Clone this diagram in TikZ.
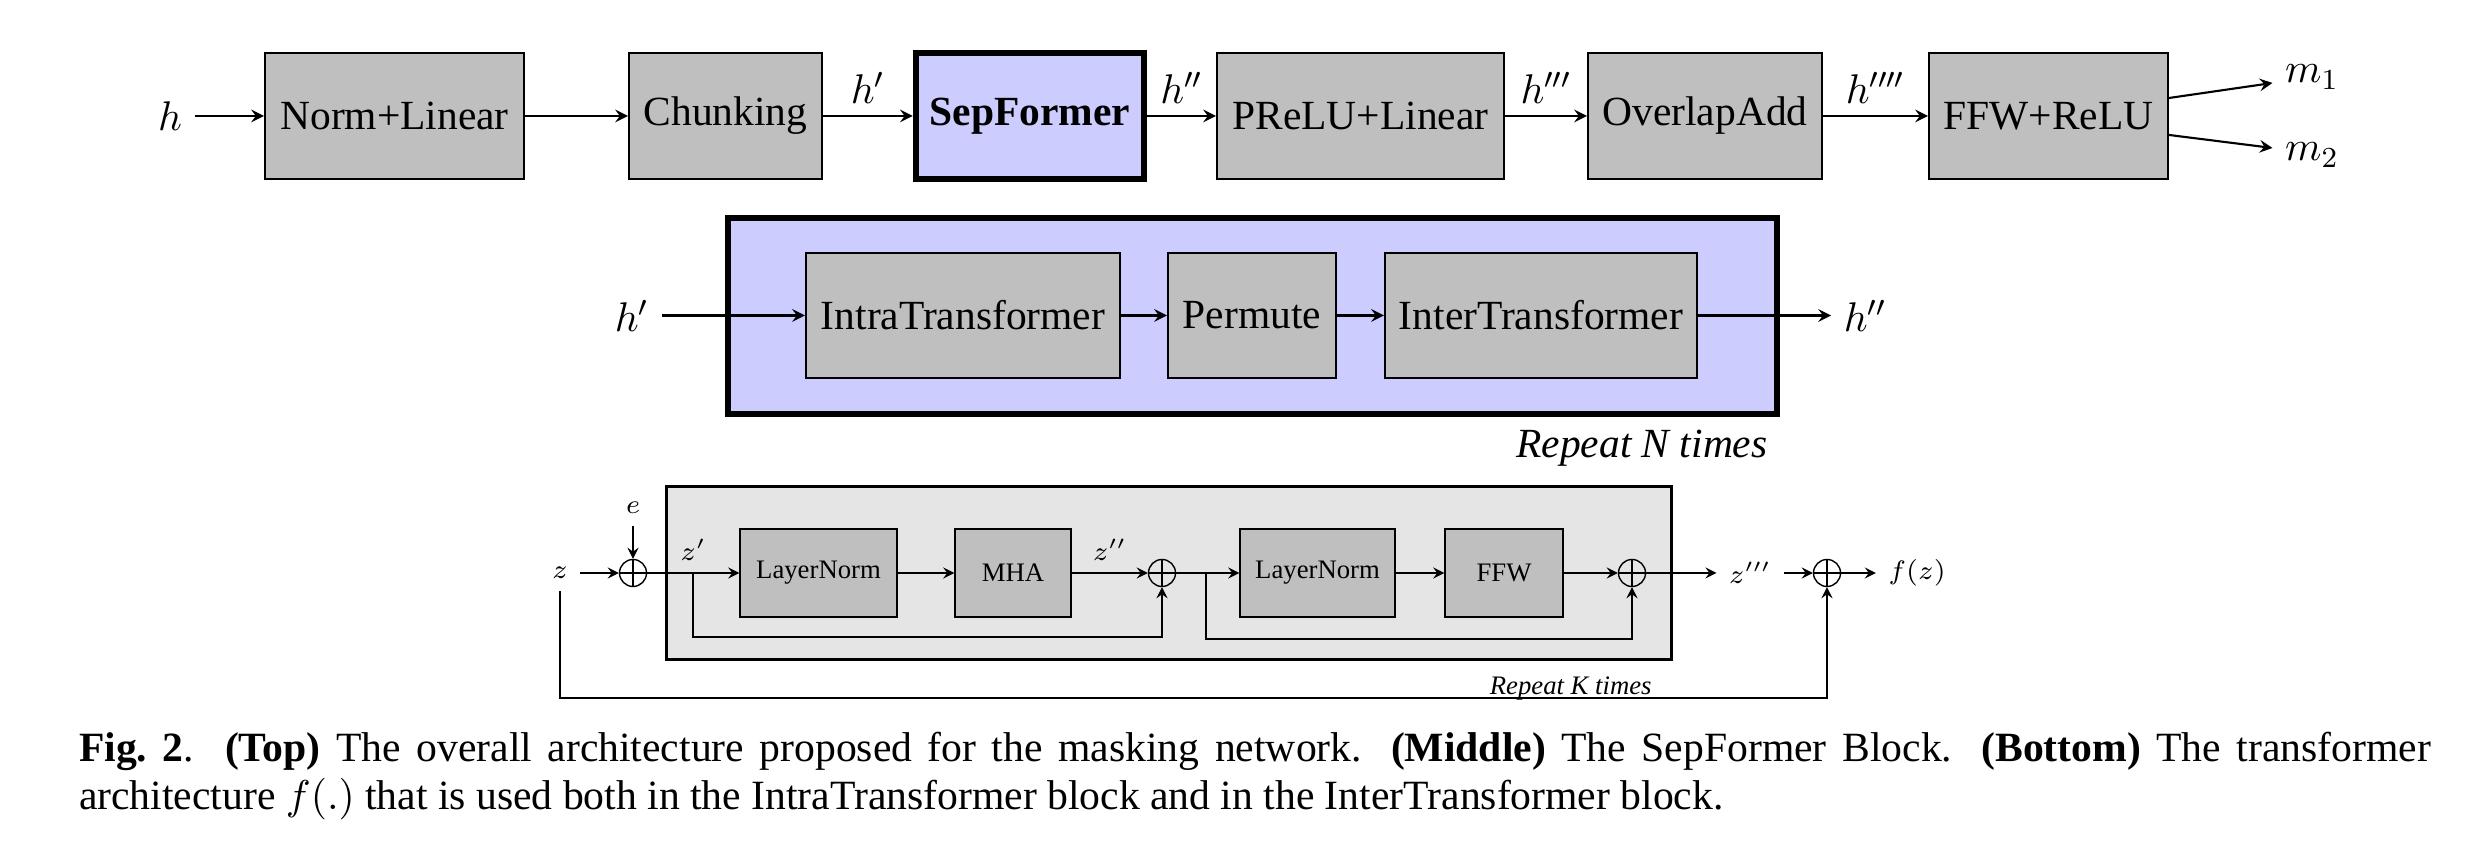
\RequirePackage{fix-cm}
\documentclass[tikz,border=0pt]{standalone}
\usepackage[no-math]{fontspec}
\setmainfont{Liberation Serif}

\begin{document}
\begin{tikzpicture}[>=stealth, line width=0.6pt,
		font=\fontsize{11.8}{14}\selectfont,
		blk/.style={draw, fill=lightgray, minimum height=1.26cm, inner sep=1pt},
		sepblk/.style={draw, line width=1.85pt, fill=blue!20, minimum height=1.26cm, inner sep=1pt},
		sepframe/.style={draw, line width=1.85pt, fill=blue!20},
		loopframe/.style={draw, line width=0.85pt, fill=gray!20},
		sblk/.style={draw, line width=0.4pt, fill=lightgray, minimum height=0.88cm, inner sep=1pt},
		plus/.style={draw, line width=0.4pt, circle, minimum size=0.27cm, inner sep=0pt,
			path picture={\draw[line width=0.4pt] (path picture bounding box.north) -- (path picture bounding box.south)
			(path picture bounding box.west) -- (path picture bounding box.east);}},
		small/.style={font=\fontsize{7.6}{9}\selectfont}]
		\useasboundingbox (0,0) rectangle (24.8,8.5);

		\node (h) at (1.70,7.34) {$h$};
		\node[blk, minimum width=2.59cm] (normlin) at (3.945,7.34) {Norm+Linear};
		\node[blk, minimum width=1.93cm] (chunk) at (7.255,7.34) {Chunking};
		\node[sepblk, minimum width=2.28cm] (sepf) at (10.30,7.34) {\textbf{SepFormer}};
		\node[blk, minimum width=2.87cm] (prelu) at (13.605,7.34) {PReLU+Linear};
		\node[blk, minimum width=2.34cm] (olap) at (17.05,7.34) {OverlapAdd};
		\node[blk, minimum width=2.39cm] (ffwrelu) at (20.485,7.34) {FFW+ReLU};
		\node (m1) at (23.12,7.73) {$m_1$};
		\node (m2) at (23.12,6.95) {$m_2$};
		\draw[->] (h) -- (normlin);
		\draw[->] (normlin) -- (chunk);
		\draw[->] (chunk) -- node[above] {$h'$} (sepf);
		\draw[->] (sepf) -- node[above] {$h''$} (prelu);
		\draw[->] (prelu) -- node[above] {$h'''$} (olap);
		\draw[->] (olap) -- node[above] {$h''''$} (ffwrelu);
		\draw[->] ([yshift=0.18cm]ffwrelu.east) -- ([yshift=-0.06cm]m1.west);
		\draw[->] ([yshift=-0.19cm]ffwrelu.east) -- ([yshift=0.07cm]m2.west);

		\node[sepframe, minimum width=10.49cm, minimum height=1.96cm] (sepblock) at (12.525,5.34) {};
		\node[blk, minimum width=3.14cm, minimum height=1.25cm] (intra) at (9.63,5.345) {IntraTransformer};
		\node[blk, minimum width=1.68cm, minimum height=1.25cm] (perm) at (12.52,5.345) {Permute};
		\node[blk, minimum width=3.12cm, minimum height=1.25cm] (inter) at (15.41,5.345) {InterTransformer};
		\node (hin) at (6.32,5.345) {$h'$};
		\node (hout) at (18.65,5.345) {$h''$};
		\node[anchor=north east] (repn) at (sepblock.south east) {\textit{Repeat N times}};
		\draw[->] (hin) -- (intra);
		\draw[->] (intra) -- (perm);
		\draw[->] (perm) -- (inter);
		\draw[->] (inter) -- (hout);

		\begin{scope}[line width=0.4pt, small]
			\node[loopframe, minimum width=10.05cm, minimum height=1.73cm] (loopbox) at (11.69,2.77) {};
			\node (z) at (5.60,2.77) {$z$};
			\node[plus] (add1) at (6.33,2.77) {};
			\node (e) at (6.33,3.42) {$e$};
			\node[sblk, minimum width=1.57cm] (ln1) at (8.185,2.77) {LayerNorm};
			\node[sblk, minimum width=1.16cm] (mha) at (10.13,2.77) {MHA};
			\node[plus] (add2) at (11.62,2.77) {};
			\node[sblk, minimum width=1.55cm] (ln2) at (13.175,2.77) {LayerNorm};
			\node[sblk, minimum width=1.18cm] (ffw) at (15.04,2.77) {FFW};
			\node[plus] (add3) at (16.32,2.77) {};
			\node (z3) at (17.50,2.77) {$z'''$};
			\node[plus] (add4) at (18.27,2.77) {};
			\node (fz) at (19.17,2.77) {$f(z)$};
			\node[anchor=north east] (repk) at ([xshift=-0.09cm, yshift=-0.03cm]loopbox.south east) {\textit{Repeat K times}};
			\coordinate (br1) at (6.93,2.77);
			\coordinate (br2) at (12.06,2.77);
			\draw[->] (z) -- (add1);
			\draw[->] (e) -- (add1);
			\draw[->] (add1) -- node[above] {$z'$} (ln1);
			\draw[->] (ln1) -- (mha);
			\draw[->] (mha) -- node[above] {$z''$} (add2);
			\draw[->] (add2) -- (ln2);
			\draw[->] (ln2) -- (ffw);
			\draw[->] (ffw) -- (add3);
			\draw[->] (add3) -- (z3);
			\draw[->] (z3) -- (add4);
			\draw[->] (add4) -- (fz);
			\draw[->] (br1) -- ++(0,-0.64) -| (add2);
			\draw[->] (br2) -- ++(0,-0.66) -| (add3);
			\draw[->] (z) -- ++(0,-1.25) -| (add4);
		\end{scope}

		\node[anchor=base west, inner sep=0pt, text width=23.52cm, align=justify,
			font=\fontsize{11.85}{13.66}\selectfont] (caption) at (0.78,0.88)
			{\textbf{Fig.~2}.\ \ \textbf{(Top)} The overall architecture proposed for the masking network. \textbf{(Middle)} The SepFormer Block. \textbf{(Bottom)} The transformer\linebreak architecture $f(.)$ that is used both in the IntraTransformer block and in the InterTransformer block.};
	\end{tikzpicture}
\end{document}
